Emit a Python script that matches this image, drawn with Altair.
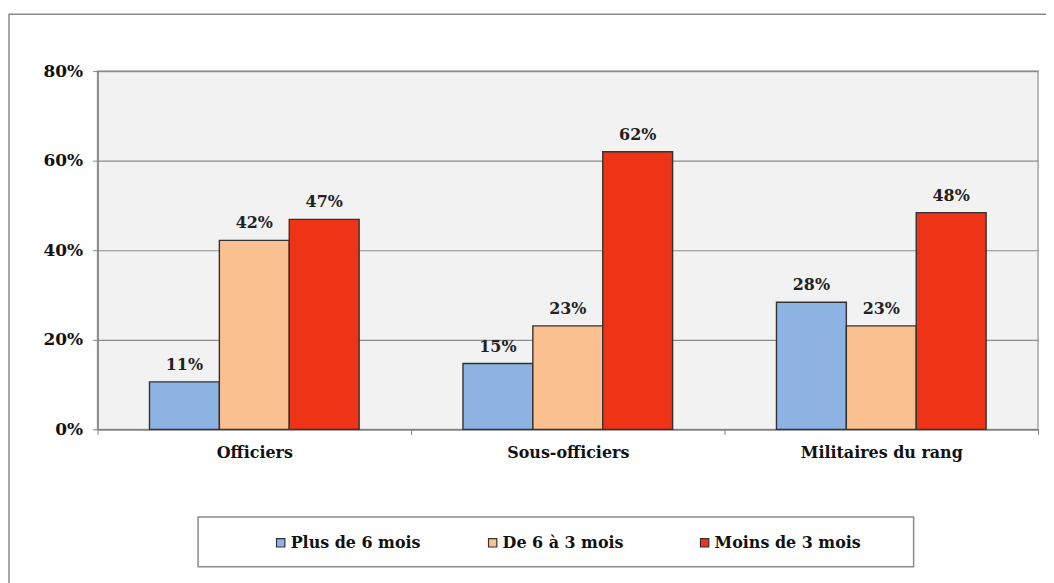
import altair as alt
import pandas as pd

categories = ["Officiers", "Sous-officiers", "Militaires du rang"]
series = ["Plus de 6 mois", "De 6 à 3 mois", "Moins de 3 mois"]
plus_6 = [0.106, 0.147, 0.284]
de_6_a_3 = [0.422, 0.231, 0.231]
moins_3 = [0.469, 0.620, 0.484]
labels_plus_6 = ["11%", "15%", "28%"]
labels_de_6_a_3 = ["42%", "23%", "23%"]
labels_moins_3 = ["47%", "62%", "48%"]
colors = ["#8DB3E2", "#FAC090", "#EE3316"]

rows = []
for vals, labs, s in [(plus_6, labels_plus_6, series[0]),
                      (de_6_a_3, labels_de_6_a_3, series[1]),
                      (moins_3, labels_moins_3, series[2])]:
    for c, v, l in zip(categories, vals, labs):
        rows.append({"cat": c, "serie": s, "val": v, "label": l})
df = pd.DataFrame(rows)

FONT = "DejaVu Serif"
FS = 16
W, H = 945, 360

x = alt.X("cat:N", sort=categories, title=None,
          scale=alt.Scale(paddingInner=0, paddingOuter=0),
          axis=alt.Axis(labelAngle=0, labelFont=FONT, labelFontSize=FS, labelFontWeight="bold",
                        labelColor="#111", labelPadding=10, tickBand="extent", tickSize=5,
                        tickColor="#808080", domainColor="#808080", domainWidth=1.5, grid=False))
xo = alt.XOffset("serie:N", sort=series,
                 scale=alt.Scale(paddingInner=0, paddingOuter=0.743))
y = alt.Y("val:Q", title=None,
          scale=alt.Scale(domain=[0, 0.8], nice=False),
          axis=alt.Axis(values=[0, 0.2, 0.4, 0.6, 0.8], format=".0%", labelFont=FONT,
                        labelFontSize=17, labelFontWeight="bold", labelColor="#111",
                        tickSize=5, tickColor="#808080", domainColor="#808080", domainWidth=1.5,
                        labelPadding=10, gridColor="#8C8C8C", gridWidth=1.2))

base = alt.Chart(df)
bars = base.mark_bar(stroke="#333333", strokeWidth=1.4).encode(
    x=x, xOffset=xo, y=y,
    color=alt.Color("serie:N", sort=series,
                    scale=alt.Scale(domain=series, range=colors),
                    legend=alt.Legend(title=None, orient="none", legendX=176, legendY=466,
                                      direction="horizontal", columns=3, gridAlign="all",
                                      columnPadding=48, symbolType="square", symbolSize=70,
                                      symbolStrokeColor="#333", symbolStrokeWidth=1.2,
                                      labelFont=FONT, labelFontSize=FS, labelFontWeight="bold",
                                      labelColor="#111", labelOffset=2, labelLimit=300)),
)
texts = base.mark_text(baseline="bottom", dy=-9, font=FONT, fontSize=FS, fontWeight="bold",
                       color="#222").encode(x=x, xOffset=xo, y=y, text="label:N")

deco = pd.DataFrame({"k": [0]})
frame = alt.Chart(deco).mark_rect(filled=False, stroke="#8A8A8A", strokeWidth=1.5).encode(
    x=alt.value(-89), x2=alt.value(1100), y=alt.value(-57), y2=alt.value(700))
legbox = alt.Chart(deco).mark_rect(filled=False, stroke="#8A8A8A", strokeWidth=1.5).encode(
    x=alt.value(101), x2=alt.value(820), y=alt.value(448), y2=alt.value(498))

chart = alt.layer(frame, legbox, bars, texts).properties(
    width=W, height=H,
    autosize=alt.AutoSizeParams(type="none"),
    padding={"left": 90, "top": 62, "right": 8, "bottom": 160},
    background="white",
).configure_view(fill="#F2F2F2", stroke="#A6A6A6", strokeWidth=1.5)

chart.save("out.html", embed_options={"renderer": "svg", "actions": False})
